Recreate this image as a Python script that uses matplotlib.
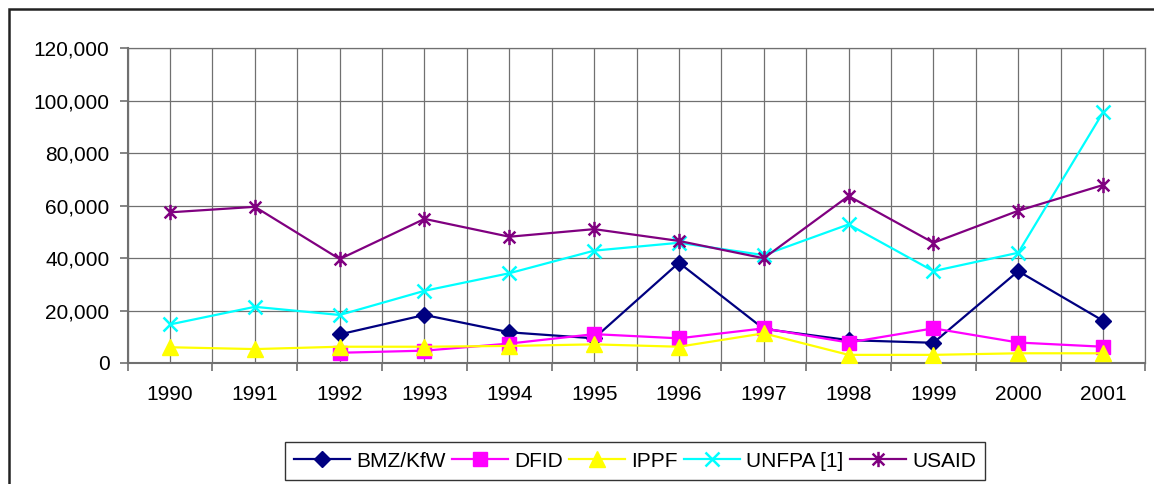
import numpy as np
import matplotlib
matplotlib.use("Agg")
import matplotlib.pyplot as plt
from matplotlib.path import Path
from matplotlib.patches import Rectangle
from matplotlib.ticker import FuncFormatter, FixedLocator

years = ["1990", "1991", "1992", "1993", "1994", "1995",
         "1996", "1997", "1998", "1999", "2000", "2001"]

bmz = [np.nan, np.nan, 10900, 18300, 11700, 9400, 38200, 13000, 8700, 7700, 35000, 16100]
dfid = [np.nan, np.nan, 3900, 4700, 7400, 11000, 9400, 13200, 7800, 13200, 7800, 6200]
ippf = [6000, 5300, 6200, 6200, 6500, 7100, 6200, 11300, 3100, 3100, 3700, 3700]
unfpa = [14700, 21400, 18300, 27500, 34200, 42800, 45800, 41100, 52800, 35000, 42000, 95500]
usaid = [57400, 59500, 39600, 54900, 48100, 51000, 46500, 39900, 63600, 45800, 58000, 67800]

labels = ["BMZ/KfW", "DFID", "IPPF", "UNFPA [1]", "USAID"]

plt.rcParams["font.family"] = ["Liberation Sans", "DejaVu Sans"]
fs = 15

fig = plt.figure(figsize=(11.54, 4.84), dpi=100)
ax = fig.add_axes([0.1106, 0.25, 0.882, 0.6508])

# Excel-style star: x with a vertical bar
star = Path([(-1, -1), (1, 1), (-1, 1), (1, -1), (0, -1.3), (0, 1.3)],
            [Path.MOVETO, Path.LINETO, Path.MOVETO, Path.LINETO, Path.MOVETO, Path.LINETO])

x = np.arange(len(years))
ax.plot(x, bmz, color="#000080", lw=1.6, marker="D", ms=8.5, label=labels[0], zorder=3)
ax.plot(x, dfid, color="#FF00FF", lw=1.6, marker="s", ms=10, label=labels[1], zorder=3)
ax.plot(x, ippf, color="#FFFF00", lw=1.6, marker="^", ms=11.5, label=labels[2], zorder=3)
ax.plot(x, unfpa, color="#00FFFF", lw=1.6, marker="x", ms=10, mew=1.8, label=labels[3], zorder=3)
ax.plot(x, usaid, color="#800080", lw=1.6, marker=star, ms=11, mew=1.8,
        mfc="none", label=labels[4], zorder=3)

ax.set_xlim(-0.5, len(years) - 0.5)
ax.set_ylim(0, 120000)
ax.set_yticks(np.arange(0, 120001, 20000))
ax.yaxis.set_major_formatter(FuncFormatter(lambda v, p: f"{int(v):,}"))

# category boundaries as major ticks, centers as labelled minor ticks
ax.xaxis.set_major_locator(FixedLocator(np.arange(-0.5, len(years), 1.0)))
ax.xaxis.set_minor_locator(FixedLocator(x))
ax.set_xticklabels([])
ax.set_xticklabels(years, minor=True)
ax.tick_params(axis="x", which="major", length=6, width=1.2, color="#707070")
ax.tick_params(axis="x", which="minor", length=0, pad=16, labelsize=fs)
ax.tick_params(axis="y", length=6, width=1.2, color="#707070", pad=7, labelsize=fs)

ax.grid(True, which="major", color="#707070", lw=0.9)
ax.grid(True, which="minor", axis="x", color="#707070", lw=0.9)
ax.set_axisbelow(True)
for s in ["top", "right"]:
    ax.spines[s].set_color("#707070")
    ax.spines[s].set_linewidth(0.9)
for s in ["left", "bottom"]:
    ax.spines[s].set_color("#707070")
    ax.spines[s].set_linewidth(1.5)

leg = fig.legend(loc="center", bbox_to_anchor=(0.5503, 0.0475), ncol=5, fontsize=fs,
                 frameon=True, fancybox=False, edgecolor="black", handlelength=2.7,
                 columnspacing=0.28, handletextpad=0.3, borderpad=0.45)
leg.get_frame().set_linewidth(1.0)

# outer chart border (right and bottom sides are cut off)
fig.patches.append(Rectangle((9 / 1154, -0.2), 1.5, 1.2 - 9 / 484,
                             transform=fig.transFigure, fill=False,
                             edgecolor="#222222", lw=1.8))

fig.savefig("out.png", dpi=100)
